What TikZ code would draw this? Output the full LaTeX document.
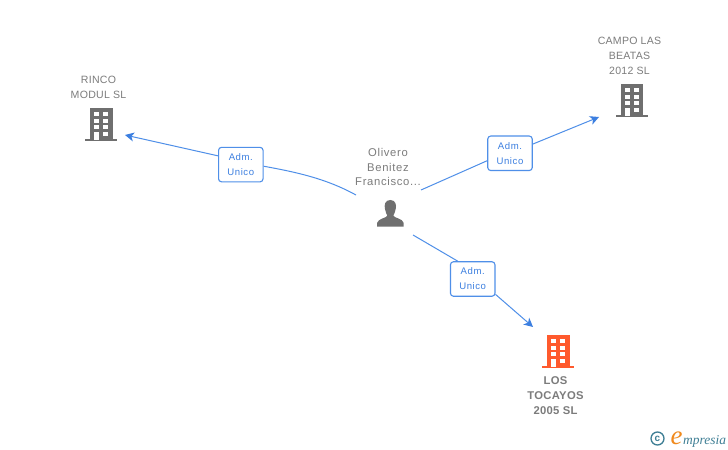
\documentclass[tikz,border=0pt]{standalone}
\usepackage{fontspec}
\setmainfont{Liberation Sans}
\newfontfamily\wide[LetterSpace=6]{Liberation Sans}
\newfontfamily\tight[LetterSpace=2.5]{Liberation Sans}
\newfontfamily\logofont{Liberation Serif}
\usetikzlibrary{arrows.meta}
\definecolor{iconGrey}{HTML}{6F6F6F}
\definecolor{txtGrey}{HTML}{7C7C7C}
\definecolor{linkBlue}{HTML}{4F8FE8}
\definecolor{tipBlue}{HTML}{3C7FE0}
\definecolor{hotOrange}{HTML}{FF5A2D}
\definecolor{logoTeal}{HTML}{3F7F95}
\definecolor{logoOrange}{HTML}{F08A1E}
\tikzset{
  x=1bp,y=-1bp,
  nametext/.style={text=txtGrey,font=\tight\fontsize{10.6}{15}\selectfont,align=center,inner sep=0pt},
  persontext/.style={text=txtGrey,font=\wide\fontsize{11.3}{15}\selectfont,align=center,inner sep=0pt},
  boldtext/.style={text=txtGrey,font=\bfseries\tight\fontsize{11.3}{15}\selectfont,align=center,inner sep=0pt},
  rolebox/.style={draw=linkBlue,line width=1.1bp,fill=white,rounded corners=3bp,minimum width=44.5bp,minimum height=34.5bp,
    inner sep=0pt,align=center,text=tipBlue,font=\wide\fontsize{9.6}{15}\selectfont},
  link/.style={draw=linkBlue,line width=1bp},
  linkarrow/.style={link,-{Stealth[length=9bp,width=9bp,inset=2.5bp,color=tipBlue]}},
  pics/building/.style={code={
    \fill[#1] (-11,0) rectangle (11.3,31);
    \fill[#1] (-16,31) rectangle (16,33.2);
    \foreach \cx in {-7,2}\foreach \cy in {3.7,10.7,17,23.7}{
      \fill[white] (\cx,\cy) rectangle ++(4.8,4.4);}
    \fill[white] (-7,23.7) rectangle ++(4.8,8);
  }},
}
\begin{document}
\begin{tikzpicture}
\useasboundingbox (0,0) rectangle (728,450);
\fill[white] (0,0) rectangle (728,450);

% buildings
\pic at (101.3,108) {building=iconGrey};
\pic at (632,84) {building=iconGrey};
\pic at (558.3,335) {building=hotOrange};

% person
\fill[iconGrey] (390.3,200) .. controls (385,200) and (384,205) .. (385,209)
  .. controls (385.5,212) and (386.5,214) .. (387.3,215.5)
  .. controls (387,218) and (378,218.5) .. (377,223) -- (377,226.7) -- (403.7,226.7) -- (403.7,223)
  .. controls (403,218.5) and (393.7,218) .. (393.3,215.5)
  .. controls (394.2,214) and (395.2,212) .. (395.7,209)
  .. controls (396.7,205) and (395.6,200) .. (390.3,200) -- cycle;

% texts
\node[nametext] (rinco) at (98.5,87) {RINCO\\MODUL SL};
\node[nametext] (campo) at (629.5,55.5) {CAMPO LAS\\BEATAS\\2012 SL};
\node[persontext] (olivero) at (388,167) {Olivero\\Benitez\\Francisco...};
\node[boldtext] (tocayos) at (555.5,396) {LOS\\TOCAYOS\\2005 SL};

% role boxes
\node[rolebox] (box1) at (240.8,164.6) {Adm.\\Unico};
\node[rolebox] (box2) at (510,153.3) {Adm.\\Unico};
\node[rolebox] (box3) at (472.7,279) {Adm.\\Unico};

% connector ends
\coordinate (s1) at (356,195);
\coordinate (t1) at (125,135);
\coordinate (s2) at (421,190);
\coordinate (t2) at (599,117);
\coordinate (s3) at (413,235);
\coordinate (t3) at (533,327);

% connectors
\draw[link] (s1) .. controls (325,178) and (295,172) .. (box1.356);
\draw[linkarrow] (box1.159) -- (t1);
\draw[link] (s2) -- (box2.198);
\draw[linkarrow] (box2.22) -- (t2);
\draw[link] (s3) -- (box3.130);
\draw[linkarrow] (box3.326) -- (t3);

% logo
\node[circle,draw=logoTeal,line width=1.3bp,minimum size=13bp,inner sep=0pt,text=logoTeal,font=\fontsize{10}{10}\selectfont\bfseries] (copy) at (657.5,438.5) {c};
\node[inner sep=0pt,anchor=base west,text=logoOrange,font=\logofont\itshape\fontsize{27}{27}\selectfont] (logoe) at (670.5,444) {e};
\node[inner sep=0pt,anchor=base west,text=logoTeal,font=\logofont\itshape\fontsize{13.5}{13.5}\selectfont] (logot) at (683,444) {mpresia};
\end{tikzpicture}
\end{document}
